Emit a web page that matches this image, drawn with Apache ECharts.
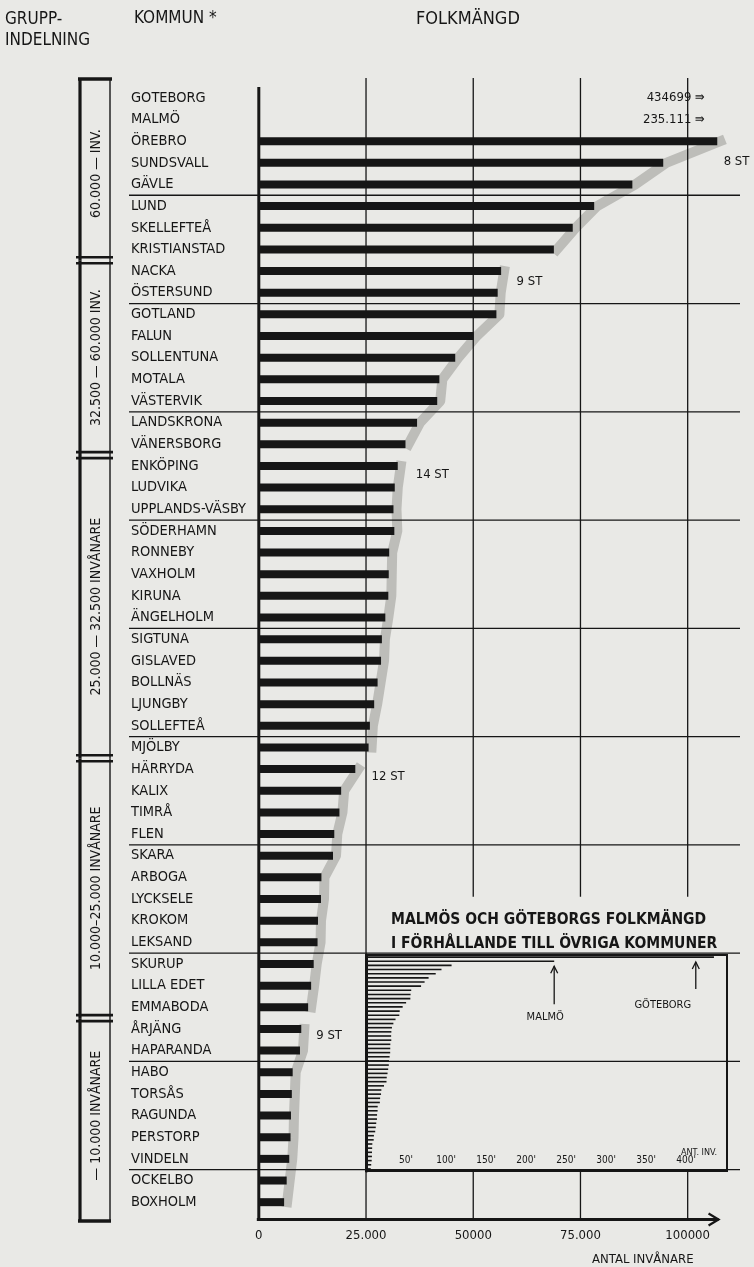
<!DOCTYPE html>
<html>
<head>
<meta charset="utf-8">
<script src="https://cdn.jsdelivr.net/npm/echarts@6/dist/echarts.min.js"></script>
<style>
  html, body { margin: 0; padding: 0; background: #e9e9e6; }
  #chart { width: 754px; height: 1267px; }
</style>
</head>
<body>
<div id="chart"></div>
<script>
// kommuner, sorterade efter folkmängd
const kommuner = ['GOTEBORG', 'MALMÖ', 'ÖREBRO', 'SUNDSVALL', 'GÄVLE', 'LUND', 'SKELLEFTEÅ', 'KRISTIANSTAD',
  'NACKA', 'ÖSTERSUND', 'GOTLAND', 'FALUN', 'SOLLENTUNA', 'MOTALA', 'VÄSTERVIK', 'LANDSKRONA', 'VÄNERSBORG',
  'ENKÖPING', 'LUDVIKA', 'UPPLANDS-VÄSBY', 'SÖDERHAMN', 'RONNEBY', 'VAXHOLM', 'KIRUNA', 'ÄNGELHOLM', 'SIGTUNA',
  'GISLAVED', 'BOLLNÄS', 'LJUNGBY', 'SOLLEFTEÅ', 'MJÖLBY',
  'HÄRRYDA', 'KALIX', 'TIMRÅ', 'FLEN', 'SKARA', 'ARBOGA', 'LYCKSELE', 'KROKOM', 'LEKSAND', 'SKURUP', 'LILLA EDET', 'EMMABODA',
  'ÅRJÄNG', 'HAPARANDA', 'HABO', 'TORSÅS', 'RAGUNDA', 'PERSTORP', 'VINDELN', 'OCKELBO', 'BOXHOLM']

const folkmangd = [434699, 235111, 106900, 94300, 87100, 78200, 73200, 68800,
  56500, 55700, 55400, 50100, 45800, 42100, 41600, 36900, 34200,
  32400, 31700, 31400, 31600, 30400, 30300, 30200, 29500, 28700,
  28500, 27700, 26900, 25900, 25600,
  22500, 19200, 18800, 17600, 17300, 14600, 14500, 13800, 13700, 12800, 12200, 11500,
  9900, 9600, 7900, 7700, 7500, 7400, 7100, 6500, 5900]

// gruppindelning (antal kommuner per grupp)
const gruppStorlek = [8, 9, 14, 12, 9]
const gruppNamn = ['60.000 — INV.', '32.500 — 60.000 INV.', '25.000 — 32.500 INVÅNARE',
  '10.000–25.000 INVÅNARE', '— 10.000 INVÅNARE']

// "x ST" texter: [x-värde, rad]
const antalNotes = [[108400, 3.45], [60100, 9.0], [36600, 17.9], [26300, 31.85], [13400, 43.8]]

// kommuner utanför skalan
const offscaleText = ['434699 ⇛', '235.111 ⇛']
const offscaleAt = 104000

const xTickValues = [0, 25000, 50000, 75000, 100000]
const xTickLabels = ['0', '25.000', '50000', '75.000', '100000']

// infällt diagram
const insetTickStep = 25000
const insetLabels = [50000, 100000, 150000, 200000, 250000, 300000, 350000, 400000]
const insetNotes = [
  { kommun: 'MALMÖ', text: 'MALMÖ', at: 235111, len: 38, dx: -9, dy: 56 },
  { kommun: 'GOTEBORG', text: 'GÖTEBORG', at: 412000, len: 27, dx: -33, dy: 48 }
]

const INK = '#161616'
const FONT = "'DejaVu Sans Condensed', 'Liberation Sans Narrow', 'Roboto Condensed', sans-serif"
const X_MIN = -30500
const X_MAX = 111500
const FRAME_TOP = -0.42
const FRAME_BOTTOM = 52.3
const INSET_TITLE_ROW = 37.4
const INSET_AXIS_ROW = 50.0
const BASE_END = 107200
const SEP_EVERY = 5

const groupBounds = []
let acc = 0
gruppStorlek.forEach(n => { groupBounds.push([acc, acc + n]); acc += n })
const separatorRows = kommuner.map((k, i) => i).filter(i => i > 0 && i % SEP_EVERY === 0)

const chart = echarts.init(document.getElementById('chart'))

function seg(x1, y1, x2, y2, w) {
  return { type: 'line', shape: { x1, y1, x2, y2 }, style: { stroke: INK, lineWidth: w } }
}

function renderFrame(params, api) {
  const v = api.value(0)
  const px = api.coord([v, 0])[0]
  const y0 = api.coord([0, 0])[1]
  const yTop = api.coord([0, FRAME_TOP])[1]
  const yBot = api.coord([0, FRAME_BOTTOM])[1]
  const yB1 = api.coord([0, INSET_TITLE_ROW])[1]
  const yB2 = api.coord([0, INSET_AXIS_ROW])[1]
  const ch = []
  if (v === 0) {
    const end = api.coord([BASE_END, FRAME_BOTTOM])[0]
    ch.push(seg(px, y0, px, yBot + 1, 3))
    ch.push(seg(px - 2, yBot, end, yBot, 3))
    ch.push({ type: 'polyline', shape: { points: [[end - 10, yBot - 6], [end, yBot], [end - 10, yBot + 6]] },
      style: { stroke: INK, lineWidth: 2.2, fill: 'none' } })
  } else if (v === 25000) {
    ch.push(seg(px, yTop, px, yBot, 1.3))
  } else {
    ch.push(seg(px, yTop, px, yB1, 1.3))
    ch.push(seg(px, yB2, px, yBot, 1.3))
  }
  return { type: 'group', children: ch }
}

function renderSeparator(params, api) {
  const a = api.coord([X_MIN, api.value(1)])
  const b = api.coord([X_MAX, api.value(1)])
  return seg(a[0] + 1, a[1], b[0] + 3, b[1], 1.3)
}

function renderBracket(params, api) {
  const gi = params.dataIndex
  const last = groupBounds.length - 1
  const y0 = api.coord([0, api.value(0)])[1]
  const y1 = api.coord([0, api.value(1)])[1]
  const xl = 80, xr = 110
  const top = gi === 0 ? y0 - 8 : y0
  const bot = gi === last ? y1 + 8 : y1
  const ch = [seg(xl, top, xl, bot, 3.2), seg(xr, top, xr, bot, 1.4)]
  if (gi === 0) ch.push(seg(xl - 2, top, xr + 2, top, 3.5))
  if (gi === last) ch.push(seg(xl - 2, bot, xr + 1, bot, 3.5))
  if (gi > 0) {
    ch.push(seg(xl - 4, y0 - 3, xr + 3, y0 - 3, 2.6))
    ch.push(seg(xl - 4, y0 + 3, xr + 3, y0 + 3, 2.6))
  }
  ch.push({ type: 'text', x: 96, y: (y0 + y1) / 2, rotation: Math.PI / 2,
    style: { text: gruppNamn[gi], fill: INK, font: '14px ' + FONT, align: 'center', verticalAlign: 'middle' } })
  return { type: 'group', children: ch }
}

function renderInsetNote(params, api) {
  const n = insetNotes[params.dataIndex]
  const p = api.coord([api.value(0), api.value(1)])
  const x = p[0], y = p[1] + 5
  return { type: 'group', children: [
    seg(x, y, x, y + n.len, 1.3),
    { type: 'polyline', shape: { points: [[x - 3.5, y + 7], [x, y], [x + 3.5, y + 7]] },
      style: { stroke: INK, lineWidth: 1.3, fill: 'none' } },
    { type: 'text', x: x + n.dx, y: p[1] + n.dy,
      style: { text: n.text, fill: INK, font: '11px ' + FONT, align: 'center', verticalAlign: 'middle' } }
  ] }
}

const shadowSeries = groupBounds.map(([a, b]) => ({
  type: 'line', xAxisIndex: 0, yAxisIndex: 0, symbol: 'none', silent: true, z: 1,
  lineStyle: { color: '#bdbdb9', width: 10, cap: 'square', join: 'round' },
  data: folkmangd.map((v, i) => (i >= a && i < b && v <= X_MAX) ? v + 700 : '-')
}))

const textStyle = (size, weight) => ({ fontSize: size, fontWeight: weight || 'normal', color: INK, fontFamily: FONT })

chart.setOption({
  backgroundColor: '#e9e9e6',
  animation: false,
  title: [
    { text: 'GRUPP-\nINDELNING', left: 0, top: 4, textStyle: { ...textStyle(17), lineHeight: 21 } },
    { text: 'KOMMUN *', left: 129, top: 5, textStyle: textStyle(17) },
    { text: 'FOLKMÄNGD', left: 411, top: 5, textStyle: textStyle(18) },
    { text: 'ANTAL INVÅNARE', left: 587, top: 1248, textStyle: textStyle(13) },
    { text: 'MALMÖS OCH GÖTEBORGS FOLKMÄNGD\nI FÖRHÅLLANDE TILL ÖVRIGA KOMMUNER', left: 386, top: 903,
      textStyle: { ...textStyle(15.5, 'bold'), lineHeight: 24 } },
    { text: 'ANT. INV.', left: 676, top: 1143, textStyle: textStyle(9) }
  ],
  grid: [
    { left: 128, right: 17, top: 87, bottom: 54 },
    { left: 366, right: 27, top: 955, bottom: 96, show: true, borderColor: INK, borderWidth: 2, backgroundColor: 'transparent' }
  ],
  xAxis: [
    { gridIndex: 0, type: 'value', min: X_MIN, max: X_MAX,
      axisLine: { show: false }, axisTick: { show: false }, splitLine: { show: false },
      axisLabel: { customValues: xTickValues, formatter: v => xTickLabels[xTickValues.indexOf(v)],
        margin: 16, ...textStyle(13) } },
    { gridIndex: 1, type: 'value', min: 0, max: 451000, interval: insetTickStep,
      axisLine: { lineStyle: { color: INK, width: 2.5 } },
      axisTick: { inside: true, length: 4, lineStyle: { color: INK, width: 1.2 } },
      splitLine: { show: false },
      axisLabel: { inside: true, margin: 6, ...textStyle(10),
        formatter: v => insetLabels.includes(v) ? (v / 1000) + "'" : '' } }
  ],
  yAxis: [
    { gridIndex: 0, type: 'category', inverse: true, data: kommuner,
      axisLine: { show: false }, axisTick: { show: false }, splitLine: { show: false },
      axisLabel: { inside: true, margin: 3, ...textStyle(14.5) } },
    { gridIndex: 0, type: 'value', inverse: true, min: 0, max: kommuner.length, show: false },
    { gridIndex: 1, type: 'category', inverse: true, data: kommuner,
      axisLine: { lineStyle: { color: INK, width: 3 } }, axisTick: { show: false }, axisLabel: { show: false } }
  ],
  series: [
    ...shadowSeries,
    {
      type: 'bar', xAxisIndex: 0, yAxisIndex: 0, barWidth: 8, z: 3,
      itemStyle: { color: INK },
      data: folkmangd.map(v => v <= X_MAX ? v : '-')
    },
    {
      type: 'scatter', xAxisIndex: 0, yAxisIndex: 0, symbolSize: 0, z: 4,
      itemStyle: { opacity: 1 },
      label: { show: true, position: 'left', distance: 0, formatter: p => offscaleText[p.dataIndex], ...textStyle(13) },
      data: kommuner.filter((k, i) => folkmangd[i] > X_MAX).map(k => [offscaleAt, k])
    },
    {
      type: 'scatter', xAxisIndex: 0, yAxisIndex: 1, symbolSize: 0, z: 4,
      itemStyle: { opacity: 1 },
      label: { show: true, position: 'right', distance: 0, formatter: p => gruppStorlek[p.dataIndex] + ' ST', ...textStyle(13) },
      data: antalNotes
    },
    {
      type: 'custom', xAxisIndex: 0, yAxisIndex: 1, clip: false, silent: true, z: 2,
      renderItem: renderFrame, data: xTickValues.map(v => [v, 0])
    },
    {
      type: 'custom', xAxisIndex: 0, yAxisIndex: 1, clip: false, silent: true, z: 2,
      renderItem: renderSeparator, data: separatorRows.map(r => [0, r])
    },
    {
      type: 'custom', xAxisIndex: 0, yAxisIndex: 1, clip: false, silent: true, z: 2,
      renderItem: renderBracket, data: groupBounds
    },
    {
      type: 'bar', xAxisIndex: 1, yAxisIndex: 2, barWidth: 1.6, z: 3,
      itemStyle: { color: INK }, data: folkmangd
    },
    {
      type: 'custom', xAxisIndex: 1, yAxisIndex: 2, clip: false, silent: true, z: 4,
      renderItem: renderInsetNote, data: insetNotes.map(n => [n.at, n.kommun])
    }
  ]
})
</script>
</body>
</html>
